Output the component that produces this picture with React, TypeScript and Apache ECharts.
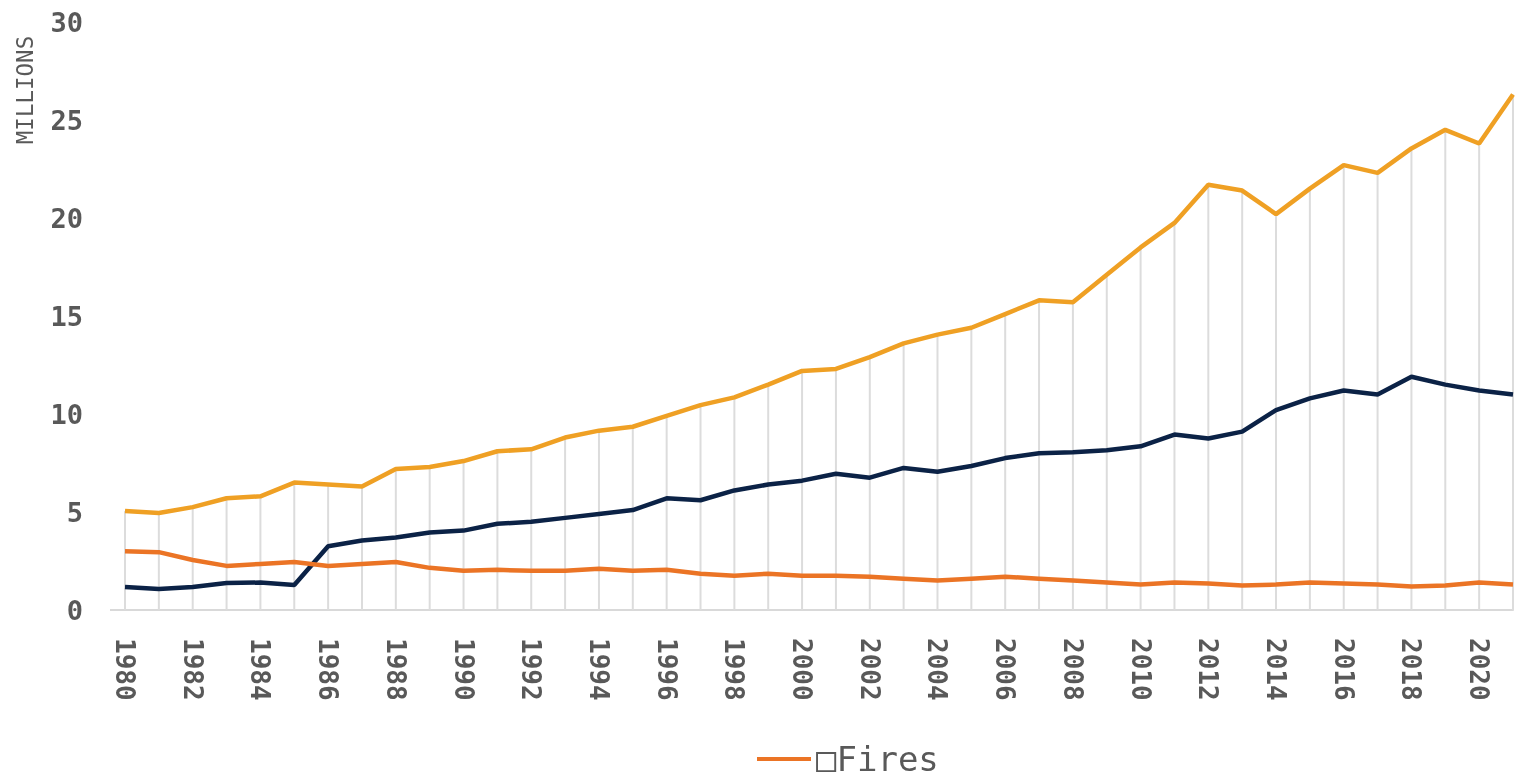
import React, { useEffect, useRef } from "react";
import * as echarts from "echarts";

const years: string[] = [];
for (let y = 1980; y <= 2021; y++) years.push(String(y));

const topSeries = [
  5.05, 4.95, 5.25, 5.7, 5.8, 6.5, 6.4, 6.3, 7.2, 7.3,
  7.6, 8.1, 8.2, 8.8, 9.15, 9.35, 9.9, 10.45, 10.85, 11.5,
  12.2, 12.3, 12.9, 13.6, 14.05, 14.4, 15.1, 15.8, 15.7, 17.1,
  18.5, 19.75, 21.7, 21.4, 20.2, 21.5, 22.7, 22.3, 23.55, 24.5,
  23.8, 26.3,
];

const midSeries = [
  1.17, 1.07, 1.17, 1.38, 1.4, 1.28, 3.25, 3.55, 3.7, 3.95,
  4.05, 4.4, 4.5, 4.7, 4.9, 5.1, 5.7, 5.6, 6.1, 6.4,
  6.6, 6.95, 6.75, 7.25, 7.05, 7.35, 7.75, 8.0, 8.05, 8.15,
  8.35, 8.95, 8.75, 9.1, 10.2, 10.8, 11.2, 11.0, 11.9, 11.5,
  11.2, 11.0,
];

const fires = [
  3.0, 2.95, 2.55, 2.25, 2.35, 2.45, 2.25, 2.35, 2.45, 2.15,
  2.0, 2.05, 2.0, 2.0, 2.1, 2.0, 2.05, 1.85, 1.75, 1.85,
  1.75, 1.75, 1.7, 1.6, 1.5, 1.6, 1.7, 1.6, 1.5, 1.4,
  1.3, 1.4, 1.35, 1.25, 1.3, 1.4, 1.35, 1.3, 1.2, 1.25,
  1.4, 1.3,
];

const yTicks = [0, 5, 10, 15, 20, 25, 30];
const firesName = "\u25A1Fires";
const unitLabel = "MILLIONS";

const FONT = "'DejaVu Sans Mono', monospace";
const GRAY = "#595959";

export default function App() {
  const ref = useRef<HTMLDivElement>(null);
  useEffect(() => {
    if (!ref.current) return;
    const chart = echarts.init(ref.current, null, { renderer: "svg" });
    chart.setOption({
      animation: false,
      grid: { left: 125, right: 3, top: 22, bottom: 169, containLabel: false },
      legend: {
        data: [{ name: firesName, icon: "rect" }],
        left: 752,
        top: 737,
        itemWidth: 54,
        itemHeight: 4,
        itemGap: 8,
        textStyle: { fontFamily: FONT, fontSize: 34, color: GRAY, lineHeight: 34 },
      },
      graphic: [
        {
          type: "text",
          x: 25,
          y: 90,
          rotation: Math.PI / 2,
          style: {
            text: unitLabel,
            fontFamily: FONT,
            fontSize: 22.5,
            fill: GRAY,
            align: "center",
            verticalAlign: "middle",
          },
        },
        {
          type: "line",
          shape: { x1: 110, y1: 610, x2: 126, y2: 610 },
          style: { stroke: "#d9d9d9", lineWidth: 2 },
        },
      ],
      xAxis: {
        type: "category",
        data: years,
        boundaryGap: false,
        axisLine: { show: true, lineStyle: { color: "#d9d9d9", width: 2 } },
        axisTick: { show: false },
        splitLine: { show: false },
        axisLabel: {
          interval: 1,
          rotate: -90,
          margin: 28,
          fontFamily: FONT,
          fontWeight: "bold",
          fontSize: 26,
          color: GRAY,
        },
      },
      yAxis: {
        type: "value",
        min: yTicks[0],
        max: yTicks[yTicks.length - 1],
        interval: 5,
        axisLine: { show: false },
        axisTick: { show: false },
        splitLine: { show: false },
        axisLabel: {
          margin: 42,
          fontFamily: FONT,
          fontWeight: "bold",
          fontSize: 27,
          color: GRAY,
        },
      },
      series: [
        {
          type: "bar",
          name: "drop",
          data: topSeries,
          barWidth: 2,
          itemStyle: { color: "#dcdcdc" },
          silent: true,
          z: 1,
        },
        {
          type: "line",
          name: "top",
          data: topSeries,
          symbol: "none",
          lineStyle: { color: "#EFA024", width: 4.5 },
          itemStyle: { color: "#EFA024" },
          z: 3,
        },
        {
          type: "line",
          name: "mid",
          data: midSeries,
          symbol: "none",
          lineStyle: { color: "#0B2246", width: 4.5 },
          itemStyle: { color: "#0B2246" },
          z: 3,
        },
        {
          type: "line",
          name: firesName,
          data: fires,
          symbol: "none",
          lineStyle: { color: "#EB7425", width: 4.5 },
          itemStyle: { color: "#EB7425" },
          z: 4,
        },
      ],
    });
    return () => chart.dispose();
  }, []);
  return (
    <div
      ref={ref}
      style={{ position: "fixed", left: 0, top: 0, width: 1516, height: 779 }}
    />
  );
}
